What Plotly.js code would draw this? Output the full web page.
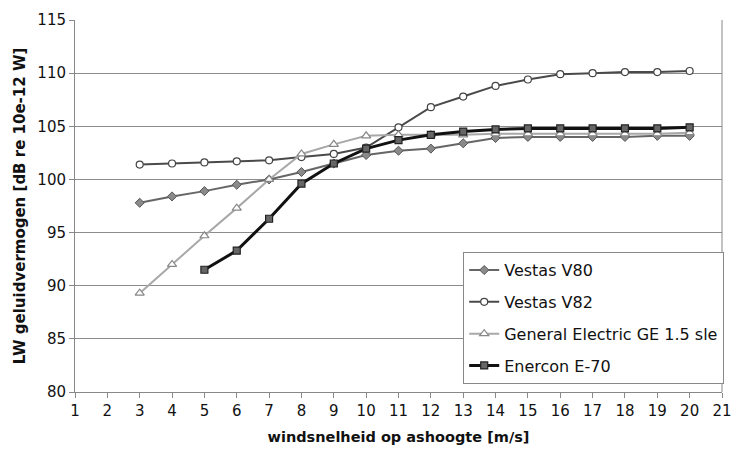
<!DOCTYPE html>
<html>
<head>
<meta charset="utf-8">
<script src="https://cdn.plot.ly/plotly-3.0.1.min.js"></script>
<style>html,body{margin:0;padding:0;background:#fff;}#chart{width:743px;height:453px;}</style>
</head>
<body>
<div id="chart"></div>
<script>
const windX = [3,4,5,6,7,8,9,10,11,12,13,14,15,16,17,18,19,20];
const enerconX = [5,6,7,8,9,10,11,12,13,14,15,16,17,18,19,20];

const vestasV80 = [97.8,98.4,98.9,99.5,100.0,100.7,101.5,102.3,102.7,102.9,103.4,103.9,104.0,104.0,104.0,104.0,104.1,104.1];
const vestasV82 = [101.4,101.5,101.6,101.7,101.8,102.1,102.4,103.0,104.9,106.8,107.8,108.8,109.4,109.9,110.0,110.1,110.1,110.2];
const geSle = [89.3,92.0,94.7,97.3,100.0,102.4,103.3,104.1,104.2,104.2,104.2,104.3,104.3,104.3,104.3,104.3,104.3,104.4];
const enercon = [91.5,93.3,96.3,99.6,101.5,102.9,103.7,104.2,104.5,104.7,104.8,104.8,104.8,104.8,104.8,104.9];

const names = ['Vestas V80','Vestas V82','General Electric GE 1.5 sle','Enercon E-70'];
const yTicks = [80,85,90,95,100,105,110,115];

const traces = [
  {x: windX, y: vestasV80, name: names[0], legendgroup:'a', mode:'lines+markers',
   line:{color:'#666666', width:2},
   marker:{symbol:'diamond', size:7, color:'#8a8a8a', line:{color:'#555555', width:1}}},
  {x: windX, y: vestasV82, name: names[1], legendgroup:'b', mode:'lines+markers',
   line:{color:'#4a4a4a', width:2},
   marker:{symbol:'circle', size:7, color:'#ffffff', line:{color:'#444444', width:1.2}}},
  {x: windX, y: geSle, name: names[2], legendgroup:'c', mode:'lines+markers',
   line:{color:'#a8a8a8', width:2},
   marker:{symbol:'triangle-up', size:8, color:'#ffffff', line:{color:'#888888', width:1.2}}},
  {x: enerconX, y: enercon, name: names[3], legendgroup:'d', mode:'lines+markers',
   line:{color:'#111111', width:3},
   marker:{symbol:'square', size:7, color:'#666666', line:{color:'#222222', width:1.2}}}
];

const layout = {
  width:743, height:453,
  margin:{l:75, r:21, t:20, b:61},
  paper_bgcolor:'#ffffff', plot_bgcolor:'#ffffff',
  font:{family:'DejaVu Sans, Verdana, sans-serif', size:15, color:'#111'},
  showlegend:true,
  legend:{x:0.6, y:0.376, xanchor:'left', yanchor:'top', bgcolor:'#ffffff',
    bordercolor:'#888888', borderwidth:1, font:{size:16, color:'#111'},
    traceorder:'grouped', tracegroupgap:8, itemwidth:30},
  xaxis:{range:[1,21], dtick:1, tick0:1, showgrid:false, zeroline:false,
    showline:true, linecolor:'#888888', linewidth:1, ticks:'outside', ticklen:5,
    tickcolor:'#888888', tickfont:{size:15},
    title:{text:'<b>windsnelheid op ashoogte [m/s]</b>', font:{size:14.5}, standoff:12}},
  yaxis:{range:[80,115], tickvals:yTicks, showgrid:true, gridcolor:'#8c8c8c', gridwidth:1,
    zeroline:false, showline:true, linecolor:'#888888', linewidth:1, ticks:'outside',
    ticklen:5, tickcolor:'#888888', tickfont:{size:15},
    title:{text:'<b>LW geluidvermogen [dB re 10e-12 W]</b>', font:{size:15}, standoff:8}},
  shapes:[{type:'line', xref:'paper', yref:'paper', x0:1, x1:1, y0:0, y1:1,
    line:{color:'#888888', width:1}}]
};

Plotly.newPlot('chart', traces, layout, {displayModeBar:false, staticPlot:true});
</script>
</body>
</html>
